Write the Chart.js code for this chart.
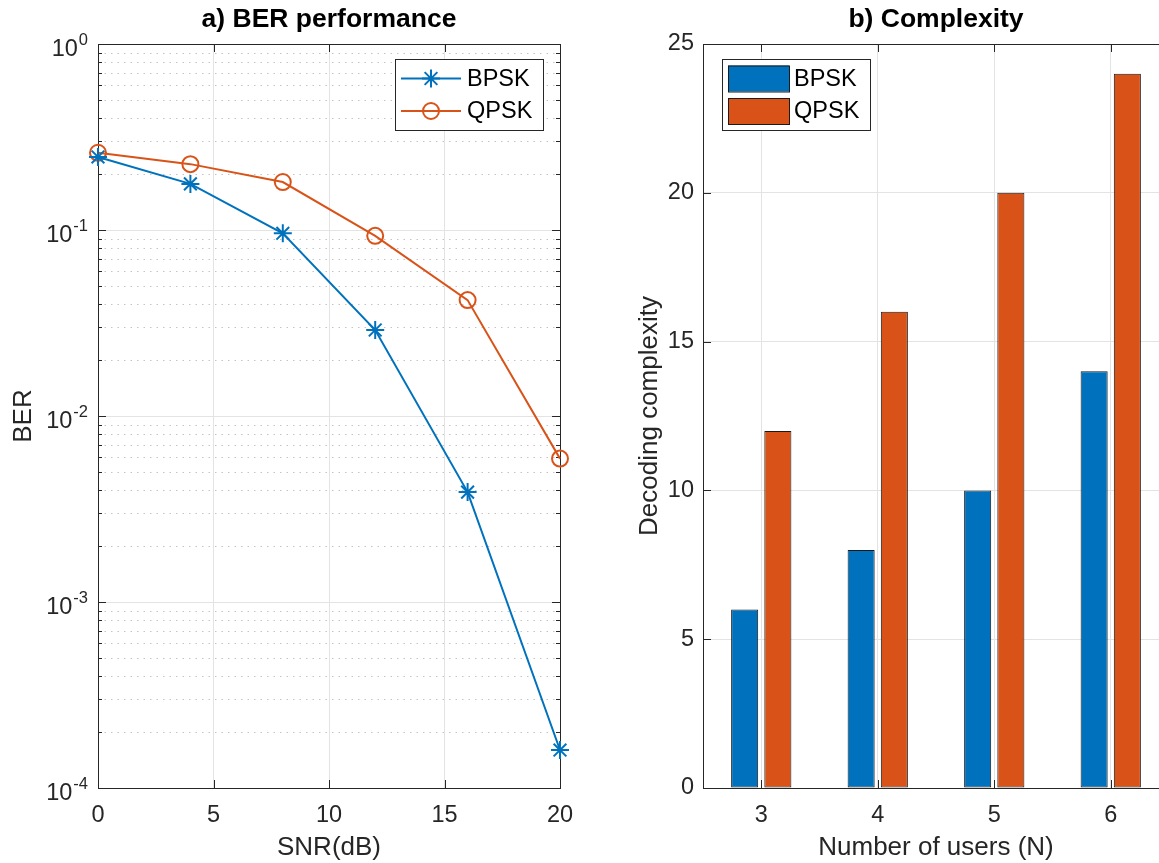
<!DOCTYPE html>
<html>
<head>
<meta charset="utf-8">
<script src="https://cdn.jsdelivr.net/npm/chart.js@4.4.0/dist/chart.umd.min.js"></script>
<style>
  html, body { margin: 0; padding: 0; background: #fff; overflow: hidden; }
  #wrap { position: relative; width: 1159px; height: 863px; overflow: hidden; }
  #berBox { position: absolute; left: 0; top: 0; width: 600px; height: 863px; }
  #cplxBox { position: absolute; left: 600px; top: 0; width: 620px; height: 863px; }
</style>
</head>
<body>
<div id="wrap">
  <div id="berBox"><canvas id="berChart" width="600" height="863"></canvas></div>
  <div id="cplxBox"><canvas id="cplxChart" width="620" height="863"></canvas></div>
</div>
<script>
// BER vs SNR
const snrDb = [0, 4, 8, 12, 16, 20];
const berBpsk = [0.247, 0.177, 0.096, 0.029, 0.0039, 0.00016];
const berQpsk = [0.26, 0.226, 0.181, 0.093, 0.042, 0.0059];

// decoding complexity vs number of users
const users = ["3", "4", "5", "6"];
const cplxBpsk = [6, 8, 10, 14];
const cplxQpsk = [12, 16, 20, 24];

// axis ticks
const snrTicks = [0, 5, 10, 15, 20];
const berDecades = [1e-4, 1e-3, 1e-2, 1e-1, 1];
const cplxTicks = [0, 5, 10, 15, 20, 25];

const BLUE = "#0072BD";
const ORANGE = "#D95319";
const AXIS = "#262626";
const GRID = "#e3e3e3";
const MINOR = "#c4c4c4";
const FONT = "'Liberation Sans', Arial, Helvetica, sans-serif";
const TICK_PX = 23.5;
const EXP_PX = 16.5;
const LABEL_PX = 26;
const LEGEND_PX = 23.5;

// decades plus 2..9 minor ticks in between
function logTicks() {
  const out = [];
  berDecades.forEach((d, i) => {
    out.push({ value: d, major: true });
    if (i < berDecades.length - 1) {
      for (let m = 2; m <= 9; m++) out.push({ value: d * m, major: false, minor: true });
    }
  });
  return out;
}

// dotted minor grid, box round the plot, inward tick marks
const matlabAxes = {
  id: "matlabAxes",
  beforeDatasetsDraw(chart) {
    const { ctx, chartArea: a } = chart;
    const xs = chart.scales.x, ys = chart.scales.y;
    ctx.save();

    ctx.strokeStyle = MINOR;
    ctx.lineWidth = 1;
    ctx.setLineDash([1.5, 5]);
    ctx.beginPath();
    ys.ticks.forEach((t, i) => {
      if (!t.minor) return;
      const y = Math.round(ys.getPixelForTick(i)) + 0.5;
      ctx.moveTo(a.left, y); ctx.lineTo(a.right, y);
    });
    ctx.stroke();
    ctx.setLineDash([]);

    ctx.strokeStyle = AXIS;
    ctx.beginPath();
    ys.ticks.forEach((t, i) => {
      const y = Math.round(ys.getPixelForTick(i)) + 0.5;
      const len = t.minor ? 4 : 8;
      ctx.moveTo(a.left, y); ctx.lineTo(a.left + len, y);
      ctx.moveTo(a.right, y); ctx.lineTo(a.right - len, y);
    });
    xs.ticks.forEach((t, i) => {
      const x = Math.round(xs.getPixelForTick(i)) + 0.5;
      ctx.moveTo(x, a.bottom); ctx.lineTo(x, a.bottom - 8);
      ctx.moveTo(x, a.top); ctx.lineTo(x, a.top + 8);
    });
    ctx.stroke();
    ctx.strokeRect(Math.round(a.left) + 0.5, Math.round(a.top) + 0.5,
      Math.round(a.right - a.left), Math.round(a.bottom - a.top));
    ctx.restore();
  }
};

// 10^n labels on the log axis
const decadeLabels = {
  id: "decadeLabels",
  afterDraw(chart) {
    const { ctx, chartArea: a } = chart;
    const ys = chart.scales.y;
    ctx.save();
    ctx.fillStyle = AXIS;
    ctx.textBaseline = "middle";
    ctx.textAlign = "left";
    berDecades.forEach(v => {
      const y = ys.getPixelForValue(v);
      const exp = String(Math.round(Math.log10(v)));
      ctx.font = `${EXP_PX}px ${FONT}`;
      const ew = ctx.measureText(exp).width;
      ctx.font = `${TICK_PX}px ${FONT}`;
      const bw = ctx.measureText("10").width;
      const right = a.left - 10;
      ctx.fillText("10", right - ew - bw - 1, y + 6);
      ctx.font = `${EXP_PX}px ${FONT}`;
      ctx.fillText(exp, right - ew, y - 4);
    });
    ctx.restore();
  }
};

function drawMarker(ctx, style, x, y, r) {
  ctx.beginPath();
  if (style === "star") {
    const d = r * Math.SQRT1_2;
    ctx.moveTo(x - r, y); ctx.lineTo(x + r, y);
    ctx.moveTo(x, y - r); ctx.lineTo(x, y + r);
    ctx.moveTo(x - d, y - d); ctx.lineTo(x + d, y + d);
    ctx.moveTo(x - d, y + d); ctx.lineTo(x + d, y - d);
  } else {
    ctx.arc(x, y, r, 0, Math.PI * 2);
  }
  ctx.stroke();
}

// boxed legend inside the plot area
const boxLegend = {
  id: "boxLegend",
  afterDraw(chart, args, opts) {
    const { ctx, chartArea: a } = chart;
    const sets = chart.data.datasets;
    ctx.save();
    ctx.font = `${LEGEND_PX}px ${FONT}`;
    const textW = Math.max(...sets.map(d => ctx.measureText(d.label).width));
    const w = Math.round(6 + 61 + 6 + textW + 10);
    const h = 71;
    const left = Math.round(opts.corner === "ne" ? a.right - 17 - w : a.left + 19);
    const top = Math.round(a.top + 15);
    ctx.fillStyle = "#fff";
    ctx.fillRect(left, top, w, h);
    ctx.strokeStyle = AXIS;
    ctx.lineWidth = 1;
    ctx.strokeRect(left + 0.5, top + 0.5, w, h);
    sets.forEach((d, i) => {
      const cy = top + 19.5 + i * 32.5;
      const x0 = left + 6;
      if (opts.kind === "line") {
        ctx.strokeStyle = d.borderColor;
        ctx.lineWidth = d.borderWidth;
        ctx.beginPath();
        ctx.moveTo(x0, cy); ctx.lineTo(x0 + 60, cy);
        ctx.stroke();
        drawMarker(ctx, d.pointStyle, x0 + 30, cy, d.pointRadius);
      } else {
        ctx.fillStyle = d.backgroundColor;
        ctx.fillRect(x0, cy - 13, 61, 26);
        ctx.strokeStyle = d.borderColor;
        ctx.lineWidth = 1;
        ctx.strokeRect(x0 + 0.5, cy - 12.5, 61, 26);
      }
      ctx.fillStyle = "#000";
      ctx.textBaseline = "middle";
      ctx.textAlign = "left";
      ctx.fillText(d.label, left + 72, cy + 1);
    });
    ctx.restore();
  }
};

const tickFont = { family: FONT, size: TICK_PX };
const labelFont = { family: FONT, size: LABEL_PX };
const titleFont = { family: FONT, size: 26.5, weight: "bold" };

function lineSet(label, ys, color, style, radius) {
  return {
    label,
    data: snrDb.map((x, i) => ({ x, y: ys[i] })),
    borderColor: color,
    borderWidth: 2,
    pointStyle: style,
    pointRadius: radius,
    pointBorderWidth: 2,
    pointBorderColor: color,
    pointBackgroundColor: "rgba(0,0,0,0)",
    tension: 0,
    clip: false
  };
}

new Chart(document.getElementById("berChart"), {
  type: "line",
  data: {
    datasets: [
      lineSet("BPSK", berBpsk, BLUE, "star", 9),
      lineSet("QPSK", berQpsk, ORANGE, "circle", 8)
    ]
  },
  options: {
    responsive: false,
    animation: false,
    devicePixelRatio: 1,
    layout: { padding: { right: 40 } },
    plugins: {
      legend: { display: false },
      tooltip: { enabled: false },
      title: {
        display: true, text: "a) BER performance", fullSize: false,
        color: "#000", font: titleFont, padding: { top: 4, bottom: 8.2 }
      },
      boxLegend: { kind: "line", corner: "ne" }
    },
    scales: {
      x: {
        type: "linear", min: 0, max: 20,
        afterBuildTicks: s => { s.ticks = snrTicks.map(v => ({ value: v })); },
        afterFit: s => { s.height = 75; },
        grid: { color: GRID, drawTicks: false },
        border: { display: false },
        ticks: { color: AXIS, font: tickFont, padding: 13, autoSkip: false, maxRotation: 0 },
        title: { display: true, text: "SNR(dB)", color: AXIS, font: labelFont, padding: { top: 0, bottom: 0 } }
      },
      y: {
        type: "logarithmic", min: 1e-4, max: 1,
        afterBuildTicks: s => { s.ticks = logTicks(); },
        afterFit: s => { s.width = 98; },
        grid: {
          color: c => (c.tick && c.tick.minor ? "rgba(0,0,0,0)" : GRID),
          drawTicks: false
        },
        border: { display: false },
        ticks: { display: false },
        title: { display: true, text: "BER", color: AXIS, font: labelFont, padding: { top: 8, bottom: 0 } }
      }
    }
  },
  plugins: [matlabAxes, boxLegend, decadeLabels]
});

new Chart(document.getElementById("cplxChart"), {
  type: "bar",
  data: {
    labels: users,
    datasets: [
      { label: "BPSK", data: cplxBpsk, backgroundColor: BLUE, borderColor: "#1a1a1a", borderWidth: 1, borderSkipped: false },
      { label: "QPSK", data: cplxQpsk, backgroundColor: ORANGE, borderColor: "#1a1a1a", borderWidth: 1, borderSkipped: false }
    ]
  },
  options: {
    responsive: false,
    animation: false,
    devicePixelRatio: 1,
    categoryPercentage: 0.57,
    barPercentage: 0.815,
    layout: { padding: { right: 51 } },
    plugins: {
      legend: { display: false },
      tooltip: { enabled: false },
      title: {
        display: true, text: "b) Complexity", fullSize: false,
        color: "#000", font: titleFont, padding: { top: 4, bottom: 8.2 }
      },
      boxLegend: { kind: "bar", corner: "nw" }
    },
    scales: {
      x: {
        afterFit: s => { s.height = 75; },
        grid: { color: GRID, drawTicks: false, offset: false },
        border: { display: false },
        ticks: { color: AXIS, font: tickFont, padding: 13, maxRotation: 0 },
        title: { display: true, text: "Number of users (N)", color: AXIS, font: labelFont, padding: { top: 0, bottom: 0 } }
      },
      y: {
        min: 0, max: 25,
        afterBuildTicks: s => { s.ticks = cplxTicks.map(v => ({ value: v })); },
        afterFit: s => { s.width = 103; },
        grid: { color: GRID, drawTicks: false },
        border: { display: false },
        ticks: { color: AXIS, font: tickFont, padding: 9 },
        title: { display: true, text: "Decoding complexity", color: AXIS, font: labelFont, padding: { top: 34, bottom: 0 } }
      }
    }
  },
  plugins: [matlabAxes, boxLegend]
});
</script>
</body>
</html>
